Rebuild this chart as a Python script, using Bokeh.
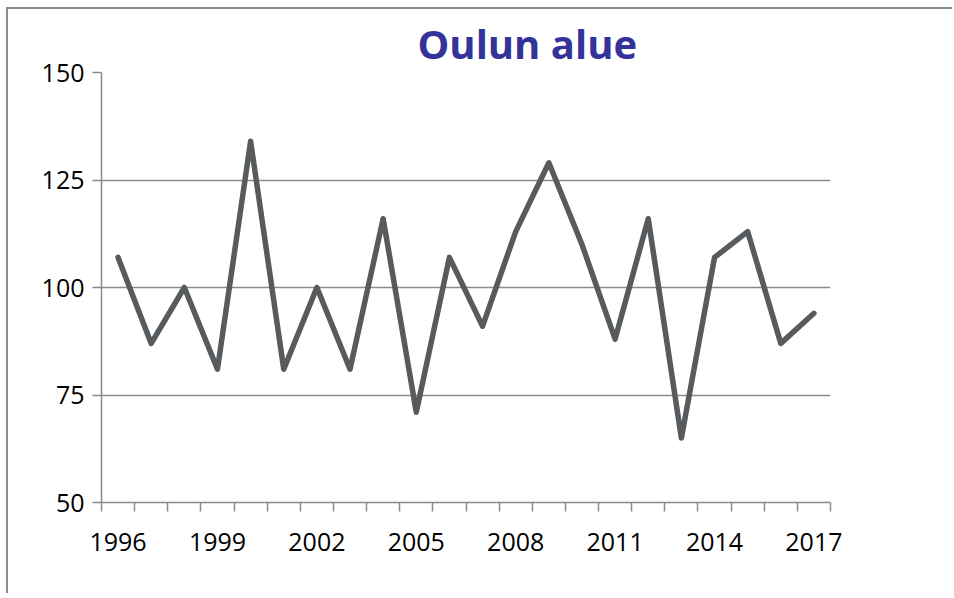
import numpy as np
from bokeh.plotting import figure
from bokeh.models import Range1d, FixedTicker, Title
from bokeh.embed import file_html
from bokeh.resources import INLINE

years = list(range(1996, 2018))
values = [107, 87, 100, 81, 134, 81, 100, 81, 116, 71, 107, 91,
          113, 129, 110, 88, 116, 65, 107, 113, 87, 94]
y_ticks = [50, 75, 100, 125, 150]
x_label_years = [1996, 1999, 2002, 2005, 2008, 2011, 2014, 2017]
title_text = "Oulun alue"

FONT = "Open Sans"
GRID = "#8a8a8a"

p = figure(width=946, height=586, output_backend="svg", toolbar_location=None,
           x_range=Range1d(years[0] - 0.5, years[-1] + 0.5),
           y_range=Range1d(y_ticks[0], y_ticks[-1]),
           min_border_left=93, min_border_top=63, min_border_right=124,
           min_border_bottom=93)
p.styles = {"border-top": "2px solid #8c8c8c", "border-left": "2px solid #8c8c8c",
            "margin-left": "6px", "margin-top": "7px"}
p.outline_line_color = None
p.background_fill_color = "white"
p.border_fill_color = "white"

p.title = Title(text=title_text, align="left", offset=316,
                text_font=FONT, text_font_style="bold", text_font_size="40px",
                text_color="#333399", standoff=4)

p.line(years, values, line_color="#585b5e", line_width=5.5,
       line_join="round", line_cap="round")

# y axis
p.yaxis.ticker = FixedTicker(ticks=y_ticks)
p.yaxis.major_tick_in = 0
p.yaxis.major_tick_out = 9
p.yaxis.minor_tick_line_color = None
p.yaxis.axis_line_color = GRID
p.yaxis.axis_line_width = 1.5
p.yaxis.major_tick_line_color = GRID
p.yaxis.major_tick_line_width = 1.5
p.yaxis.major_label_text_font = FONT
p.yaxis.major_label_text_font_size = "25px"
p.yaxis.major_label_text_color = "black"
p.yaxis.major_label_standoff = 8

# x axis
p.xaxis.ticker = FixedTicker(ticks=x_label_years,
                             minor_ticks=list(np.arange(years[0] - 0.5, years[-1] + 1.0, 1.0)))
p.xaxis.major_tick_line_color = None
p.xaxis.minor_tick_in = 0
p.xaxis.minor_tick_out = 9
p.xaxis.minor_tick_line_color = GRID
p.xaxis.minor_tick_line_width = 1.5
p.xaxis.axis_line_color = GRID
p.xaxis.axis_line_width = 1.5
p.xaxis.major_label_text_font = FONT
p.xaxis.major_label_text_font_size = "25px"
p.xaxis.major_label_text_color = "black"
p.xaxis.major_label_standoff = 21

p.xgrid.grid_line_color = None
p.ygrid.ticker = FixedTicker(ticks=y_ticks)
p.ygrid.grid_line_color = GRID
p.ygrid.grid_line_width = 1.5

open("out.html", "w").write(file_html(p, INLINE))
